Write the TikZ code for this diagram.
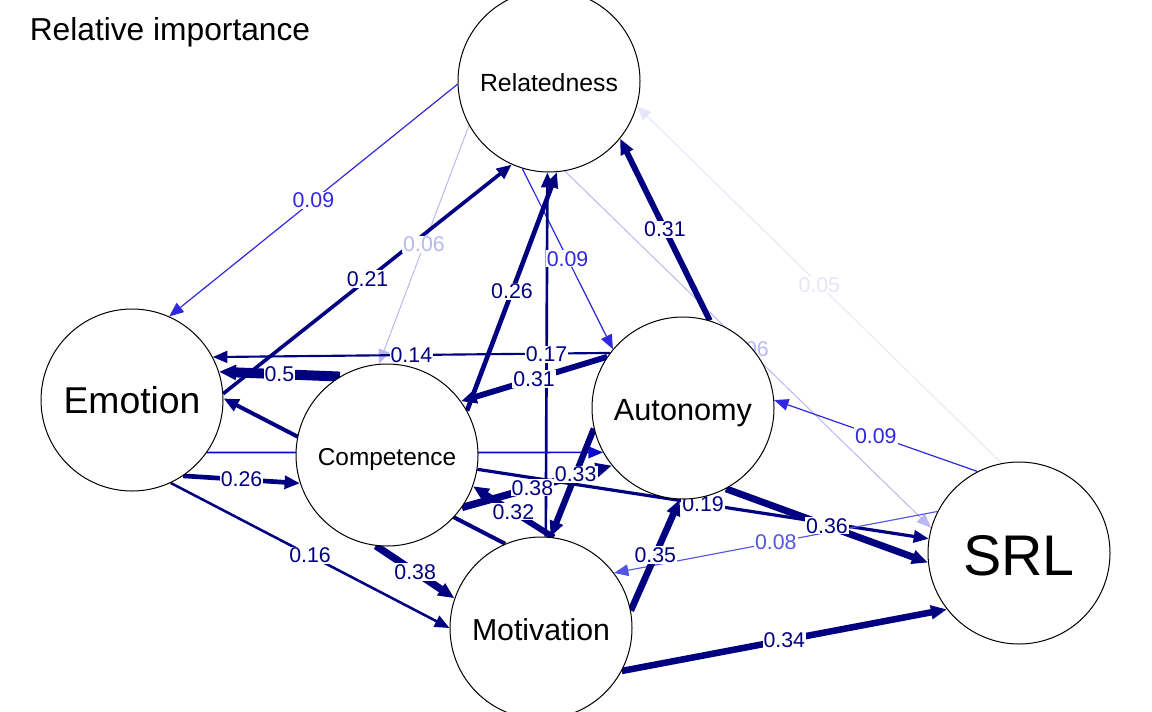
\documentclass[tikz,border=0pt]{standalone}
\usepackage{fontspec}
\setmainfont{Liberation Sans}
\usetikzlibrary{arrows.meta}
\pgfdeclarelayer{edges}
\pgfdeclarelayer{labels}
\pgfsetlayers{edges,labels,main}
\definecolor{navy}{RGB}{0,0,128}
\definecolor{cnine}{RGB}{48,40,220}
\definecolor{ceight}{RGB}{85,85,228}
\definecolor{csix}{RGB}{185,185,240}
\definecolor{cfive}{RGB}{230,230,250}
\definecolor{cea}{RGB}{10,10,205}
\newcommand{\lowtxt}[1]{\raisebox{-3pt}{#1}}
\begin{document}
\begin{tikzpicture}[x=0.75pt,y=-0.75pt,
  nd/.style={circle, draw=black, fill=white, line width=0.75pt, minimum size=136.5pt, inner sep=0pt, text depth=0pt},
  ed/.style 2 args={draw=#2, line width=#1, -{Triangle[length=10.5pt 0.3, width=8.5pt 0.3]}},
  lbl/.style={fill=white, inner sep=0.8pt, text=#1, font=\fontsize{16}{16}\selectfont}]
\useasboundingbox (0,0) rectangle (1152,711);
\clip (0,0) rectangle (1152,711);
\node[anchor=base west, inner sep=0pt, font=\fontsize{23.8}{26}\selectfont] (title) at (29.5,40.5) {Relative importance};
% nodes
\node[nd] (rel) at (549,81) {\fontsize{18.6}{20}\selectfont\lowtxt{Relatedness}};
\node[nd] (emo) at (132,400) {\fontsize{28}{30}\selectfont Emotion};
\node[nd] (com) at (387,455) {\fontsize{18.3}{20}\selectfont\lowtxt{Competence}};
\node[nd] (aut) at (683,408) {\fontsize{23}{25}\selectfont\lowtxt{Autonomy}};
\node[nd] (srl) at (1019,553) {\fontsize{43}{45}\selectfont\lowtxt{SRL}};
\node[nd] (mot) at (541,628) {\fontsize{22.7}{25}\selectfont\lowtxt{Motivation}};
% edges
\begin{pgfonlayer}{edges}
\draw[ed={0.9pt}{cnine}] (rel.182.5) -- coordinate[midway] (m1) (emo.66.6);
\draw[ed={0.75pt}{csix}] (rel.209.3) -- coordinate[midway] (m2) (com.95.6);
\draw[ed={0.9pt}{cnine}] (rel.253) -- coordinate[midway] (m3) (aut.140.9);
\draw[ed={0.75pt}{csix}] (rel.280) -- coordinate[midway] (m4) (srl.164.3);
\draw[ed={0.75pt}{cfive}] (srl.101.5) -- coordinate[midway] (m5) (rel.-16.3);
\draw[ed={2.7pt}{navy}] (emo.4.5) -- coordinate[midway] (m6) (rel.246.7);
\draw[ed={3.5pt}{navy}] (com.29) -- coordinate[midway] (m7) (rel.275);
\draw[ed={2.0pt}{navy}] (mot.87.5) -- coordinate[midway] (m8) (rel.269);
\draw[ed={4.4pt}{navy}] (aut.73) -- coordinate[midway] (m9) (rel.321.2);
\draw[ed={4.4pt}{navy}] (aut.146.7) -- coordinate[midway] (m10) (com.36.3);
\draw[ed={1.6pt}{navy}] (aut.143) -- coordinate[midway] (m11) (emo.28.7);
\draw[ed={7.5pt}{navy}] (com.121.4) -- coordinate[midway] (m12) (emo.18.8);
\draw[ed={3.0pt}{navy}] (mot.113.7) -- (emo.1);
\draw[ed={1.3pt}{cea}] (emo.-35.6) -- (aut.209.4);
\draw[ed={3.5pt}{navy}] (emo.304) -- coordinate[midway] (m15) (com.198.4);
\draw[ed={1.9pt}{navy}] (emo.295) -- coordinate[midway] (m16) (mot.180);
\draw[ed={5.5pt}{navy}] (com.263.8) -- coordinate[midway] (m17) (mot.161);
\draw[ed={5.5pt}{navy}] (com.-35.2) -- coordinate[pos=0.47] (m18) (aut.219.7);
\draw[ed={4.5pt}{navy}] (mot.82) -- coordinate[midway] (m19) (com.340);
\draw[ed={4.7pt}{navy}] (aut.193.7) -- coordinate[pos=0.42] (m20) (mot.84.5);
\draw[ed={2.4pt}{navy}] (com.-9.4) -- coordinate[midway] (m21) (srl.171.9);
\draw[ed={5.2pt}{navy}] (aut.298.8) -- coordinate[midway] (m22) (srl.186.3);
\draw[ed={0.85pt}{ceight}] (srl.153.4) -- coordinate[midway] (m23) (mot.37.4);
\draw[ed={5.0pt}{navy}] (mot.11.4) -- coordinate[midway] (m24) (aut.268);
\draw[ed={4.9pt}{navy}] (mot.332) -- coordinate[midway] (m25) (srl.218.8);
\draw[ed={0.9pt}{cnine}] (srl.117.7) -- coordinate[midway] (m26) (aut.5);
\end{pgfonlayer}
% labels
\begin{pgfonlayer}{labels}
\node[lbl=cnine] (l1) at (m1) {0.09};
\node[lbl=csix] (l2) at (m2) {0.06};
\node[lbl=cnine] (l3) at (m3) {0.09};
\node[lbl=csix] (l4) at (m4) {0.06};
\node[lbl=cfive] (l5) at (m5) {0.05};
\node[lbl=navy] (l6) at (m6) {0.21};
\node[lbl=navy] (l7) at (m7) {0.26};
\node[lbl=navy] (l9) at (m9) {0.31};
\node[lbl=navy] (l10) at (m10) {0.31};
\node[lbl=navy] (l11) at (m11) {0.14};
\node[lbl=navy] (l8) at (m8) {0.17};
\node[lbl=navy] (l12) at (m12) {0.5};
\node[lbl=navy] (l15) at (m15) {0.26};
\node[lbl=navy] (l16) at (m16) {0.16};
\node[lbl=navy] (l17) at (m17) {0.38};
\node[lbl=navy] (l19) at (m19) {0.32};
\node[lbl=navy] (l18) at (m18) {0.38};
\node[lbl=navy] (l20) at (m20) {0.33};
\node[lbl=navy] (l21) at (m21) {0.19};
\node[lbl=ceight] (l23) at (m23) {0.08};
\node[lbl=navy] (l22) at (m22) {0.36};
\node[lbl=navy] (l24) at (m24) {0.35};
\node[lbl=navy] (l25) at (m25) {0.34};
\node[lbl=cnine] (l26) at (m26) {0.09};
\end{pgfonlayer}
\end{tikzpicture}
\end{document}
